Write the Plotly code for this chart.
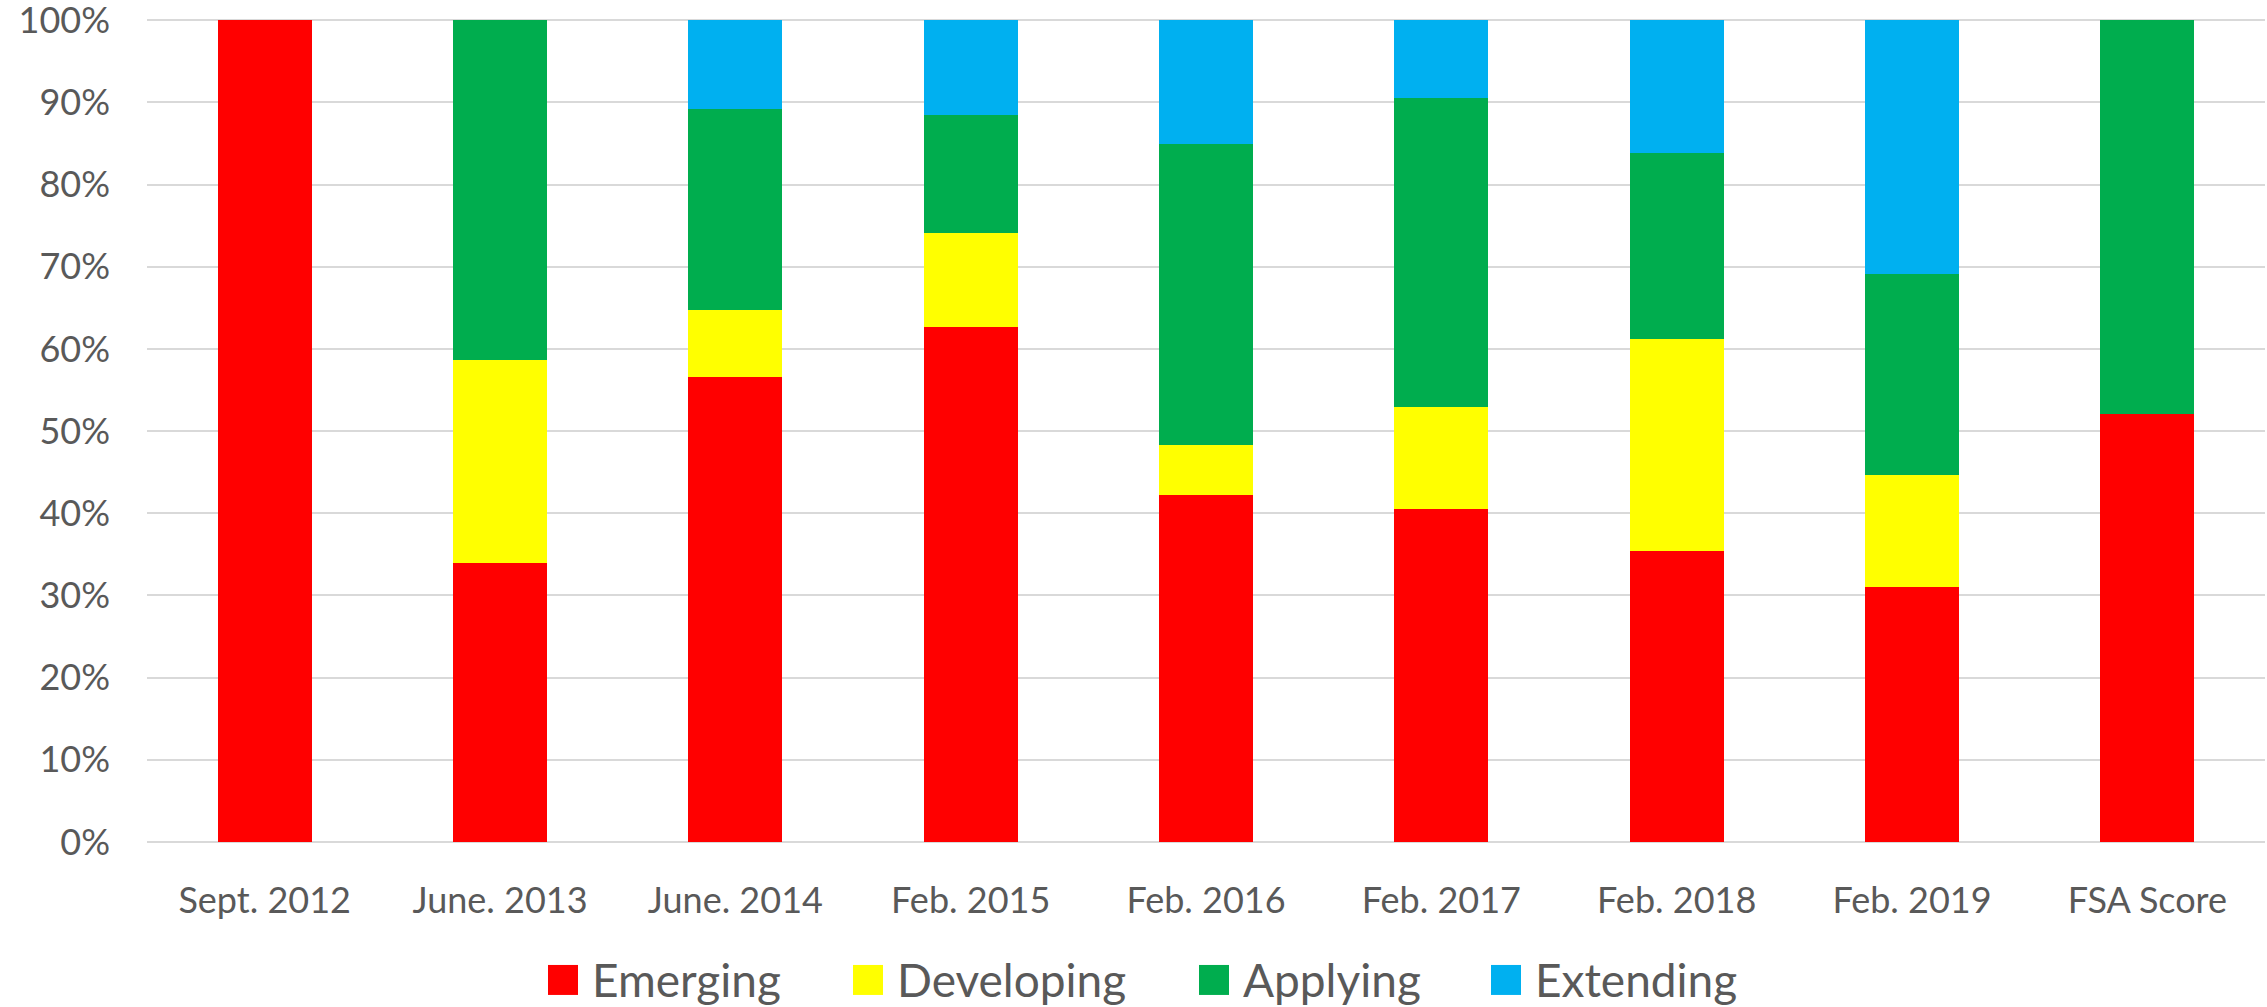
import plotly.graph_objects as go

# Category labels and stacked percentages
PERIODS = [
    "Sept. 2012",
    "June. 2013",
    "June. 2014",
    "Feb. 2015",
    "Feb. 2016",
    "Feb. 2017",
    "Feb. 2018",
    "Feb. 2019",
    "FSA Score",
]
EMERGING = [100.0, 34.0, 56.6, 62.7, 42.2, 40.5, 35.4, 31.0, 52.1]
DEVELOPING = [0.0, 24.6, 8.2, 11.4, 6.1, 12.4, 25.8, 13.7, 0.0]
APPLYING = [0.0, 41.4, 24.4, 14.4, 36.6, 37.7, 22.6, 24.4, 47.9]
EXTENDING = [0.0, 0.0, 10.8, 11.5, 15.1, 9.4, 16.2, 30.9, 0.0]

Y_TICKS = [0, 10, 20, 30, 40, 50, 60, 70, 80, 90, 100]
Y_TICK_LABELS = [f"{v}%" for v in Y_TICKS]

SERIES_NAMES = ["Emerging", "Developing", "Applying", "Extending"]
SERIES_COLORS = ["#FF0000", "#FFFF00", "#00AD4E", "#00B0F0"]

FONT = "Lato, Calibri, Carlito, sans-serif"
TEXT_COLOR = "#595959"
GRID_COLOR = "#D9D9D9"

WIDTH, HEIGHT = 2267, 1007
Y_MAX = 100.4
# plot top chosen so that the 100% line sits at y=20 px
MARGIN = dict(l=147, r=2, t=842 - 822 * Y_MAX / 100, b=165)

# legend placement (pixels in the page) for the hand-drawn legend
LEGEND_SWATCH_X = [548, 853, 1199, 1491]
LEGEND_Y = 980
SWATCH = 30


def _paper_x(px: float) -> float:
    return (px - MARGIN["l"]) / (WIDTH - MARGIN["l"] - MARGIN["r"])


def _paper_y(py: float) -> float:
    plot_h = HEIGHT - MARGIN["t"] - MARGIN["b"]
    return (HEIGHT - MARGIN["b"] - py) / plot_h


values = [EMERGING, DEVELOPING, APPLYING, EXTENDING]

fig = go.Figure()
for name, color, ys in zip(SERIES_NAMES, SERIES_COLORS, values):
    fig.add_trace(
        go.Bar(
            x=PERIODS,
            y=ys,
            name=name,
            marker=dict(color=color, line=dict(width=0)),
            showlegend=False,
            hovertemplate=f"<b>%{{x}}</b><br>{name}: %{{y:.1f}}%<extra></extra>",
        )
    )

shapes = []
annotations = []
for name, color, sx in zip(SERIES_NAMES, SERIES_COLORS, LEGEND_SWATCH_X):
    shapes.append(
        dict(
            type="rect",
            xref="paper",
            yref="paper",
            x0=_paper_x(sx),
            x1=_paper_x(sx + SWATCH),
            y0=_paper_y(LEGEND_Y + SWATCH / 2),
            y1=_paper_y(LEGEND_Y - SWATCH / 2),
            fillcolor=color,
            line=dict(width=0),
        )
    )
    annotations.append(
        dict(
            text=name,
            xref="paper",
            yref="paper",
            x=_paper_x(sx + SWATCH + 12),
            y=_paper_y(LEGEND_Y),
            xanchor="left",
            yanchor="middle",
            showarrow=False,
            font=dict(size=46, color=TEXT_COLOR, family=FONT),
        )
    )

fig.update_layout(
    width=WIDTH,
    height=HEIGHT,
    barmode="stack",
    bargap=0.6,
    margin=MARGIN,
    plot_bgcolor="white",
    paper_bgcolor="white",
    font=dict(family=FONT, color=TEXT_COLOR),
    showlegend=False,
    shapes=shapes,
    annotations=annotations,
)
fig.update_xaxes(
    tickfont=dict(size=36, color=TEXT_COLOR),
    automargin=False,
    showline=False,
    showgrid=False,
    ticks="",
    ticklabelstandoff=34,
)
fig.update_yaxes(
    range=[0, Y_MAX],
    tickmode="array",
    tickvals=Y_TICKS,
    ticktext=Y_TICK_LABELS,
    tickfont=dict(size=36, color=TEXT_COLOR),
    ticklabeloverflow="allow",
    automargin=False,
    showgrid=True,
    gridcolor=GRID_COLOR,
    gridwidth=2,
    zeroline=True,
    zerolinecolor=GRID_COLOR,
    zerolinewidth=2,
    showline=False,
    ticks="",
    ticklabelstandoff=36,
)

# the page body has a default 8px margin; drop it so the figure fills the window
fig.write_html(
    "out.html",
    config={"displayModeBar": False},
    post_script="document.body.style.margin='0';document.body.style.overflow='hidden';",
)
